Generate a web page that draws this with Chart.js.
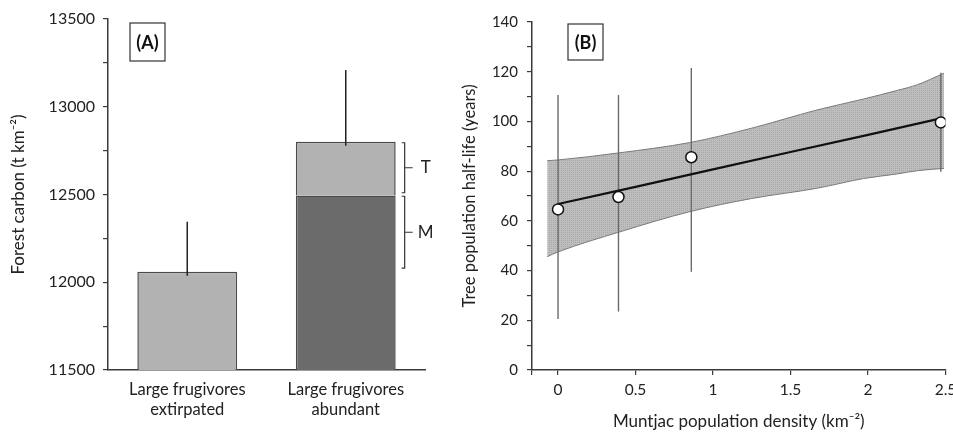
<!DOCTYPE html>
<html>
<head>
<meta charset="utf-8">
<script src="https://cdn.jsdelivr.net/npm/chart.js@4"></script>
<style>
  body { margin: 0; background: #fff; }
  #wrap { position: relative; width: 953px; height: 433px; overflow: hidden; }
  canvas { position: absolute; top: 0; }
  #chartA { left: 0; }
  #chartB { left: 445px; }
</style>
</head>
<body>
<div id="wrap">
  <canvas id="chartA" width="445" height="433"></canvas>
  <canvas id="chartB" width="508" height="433"></canvas>
</div>
<script>
// Panel A - forest carbon
const carbonGroups = [['Large frugivores', 'extirpated'], ['Large frugivores', 'abundant']];
const carbonBase = [12060, 12495];   // whole bar / M part
const carbonTop = [null, 305];       // T part on top of M
const carbonErrHigh = [12345, 13210];
const bracketNames = ['T', 'M'];
const bracketLow = [12510, 12080];
const bracketHigh = [12795, 12490];
const carbonTicks = [11500, 12000, 12500, 13000, 13500];

// Panel B - muntjac vs half-life
const muntjacDensity = [0, 0.39, 0.86, 2.47];
const halfLife = [64.6, 69.6, 85.6, 99.6];
const halfLifeLow = [20.5, 23.5, 39.5, 79.8];
const halfLifeHigh = [110.6, 110.6, 121.5, 119.6];
const fitDensity = [0, 0.5, 1, 1.5, 2, 2.47];
const fitHalfLife = [66.8, 73.7, 80.7, 87.7, 94.6, 101.2];
const bandDensity = [-0.07, 0, 0.4, 0.85, 1.25, 1.67, 1.97, 2.19, 2.32, 2.49];
const bandUpper = [84.2, 84.5, 87.4, 91.5, 97.3, 104.6, 109, 112.5, 114.8, 119.4];
const bandLower = [45.6, 47.5, 55.6, 63.7, 69, 73.1, 77, 78.9, 80.2, 81.1];
const densityMin = -0.168;
const densityTicks = [0, 0.5, 1, 1.5, 2, 2.5];
const halfLifeTicks = [0, 20, 40, 60, 80, 100, 120, 140];

Chart.defaults.font.family = 'Lato, "Open Sans", sans-serif';
Chart.defaults.color = '#222';
const axisColor = '#3a3a3a';

function labelBox(ctx, x, y, w, h, text) {
    ctx.save();
    ctx.fillStyle = '#fff';
    ctx.fillRect(x, y, w, h);
    ctx.strokeStyle = '#333';
    ctx.lineWidth = 1.2;
    ctx.strokeRect(x, y, w, h);
    ctx.fillStyle = '#111';
    ctx.font = 'bold 18px Lato, sans-serif';
    ctx.textAlign = 'center';
    ctx.textBaseline = 'middle';
    ctx.fillText(text, x + w / 2, y + h / 2 + 1);
    ctx.restore();
}

// error bars, brackets and the (A) label
const carbonExtras = {
    id: 'carbonExtras',
    afterDatasetsDraw(chart) {
        const { ctx, scales: { x, y } } = chart;
        ctx.save();
        ctx.strokeStyle = '#222';
        ctx.lineWidth = 1.5;
        carbonErrHigh.forEach((v, i) => {
            const top = (carbonBase[i] || 0) + (carbonTop[i] || 0);
            const xp = x.getPixelForValue(i);
            ctx.beginPath();
            ctx.moveTo(xp, y.getPixelForValue(top) + 4);
            ctx.lineTo(xp, y.getPixelForValue(v));
            ctx.stroke();
        });

        const bar = chart.getDatasetMeta(0).data[1];
        const xr = bar.x + bar.width / 2;
        ctx.strokeStyle = '#333';
        ctx.lineWidth = 1.2;
        ctx.font = '17px Lato, sans-serif';
        ctx.fillStyle = '#222';
        ctx.textAlign = 'center';
        ctx.textBaseline = 'middle';
        bracketNames.forEach((name, i) => {
            const y1 = y.getPixelForValue(bracketHigh[i]);
            const y2 = y.getPixelForValue(bracketLow[i]);
            const bx = xr + 9;
            ctx.beginPath();
            ctx.moveTo(bx - 3, y1);
            ctx.lineTo(bx, y1);
            ctx.lineTo(bx, y2);
            ctx.lineTo(bx - 3, y2);
            ctx.moveTo(bx, (y1 + y2) / 2);
            ctx.lineTo(bx + 8, (y1 + y2) / 2);
            ctx.stroke();
            ctx.fillText(name, bx + 21, (y1 + y2) / 2);
        });
        ctx.restore();
    },
    afterDraw(chart) {
        const a = chart.chartArea;
        labelBox(chart.ctx, a.left + 22, a.top + 4, 35, 38, '(A)');
    }
};

new Chart(document.getElementById('chartA'), {
    type: 'bar',
    data: {
        labels: carbonGroups,
        datasets: [
            {
                label: 'M',
                data: carbonBase,
                backgroundColor: ['#b2b2b2', '#6b6b6b'],
                borderColor: '#4a4a4a',
                borderWidth: 1.5,
                borderSkipped: false,
                barPercentage: 0.63,
                categoryPercentage: 1
            },
            {
                label: 'T',
                data: carbonTop,
                backgroundColor: '#b2b2b2',
                borderColor: '#4a4a4a',
                borderWidth: 1.5,
                borderSkipped: 'bottom',
                barPercentage: 0.63,
                categoryPercentage: 1
            }
        ]
    },
    options: {
        responsive: false,
        animation: false,
        layout: { padding: { top: 19, right: 20, left: 0, bottom: 0 } },
        plugins: { legend: { display: false }, tooltip: { enabled: false } },
        scales: {
            x: {
                stacked: true,
                grid: { display: false, drawTicks: false },
                border: { color: axisColor, width: 1.5 },
                ticks: { font: { size: 16.5 }, padding: 10, color: '#222' },
                afterFit: s => { s.height = 63; }
            },
            y: {
                stacked: true,
                min: 11500,
                max: 13500,
                grid: { drawOnChartArea: false, tickLength: 5, color: axisColor, lineWidth: 1.2 },
                border: { color: axisColor, width: 1.5 },
                ticks: {
                    stepSize: 250,
                    font: { size: 16 },
                    padding: 8,
                    color: '#222',
                    callback: v => carbonTicks.includes(v) ? String(v) : ''
                },
                title: {
                    display: true,
                    text: 'Forest carbon (t km⁻²)',
                    font: { size: 17 },
                    padding: { top: 8 },
                    color: '#222'
                },
                afterFit: s => { s.width = 108; s.paddingTop = 0; s.paddingBottom = 0; }
            }
        }
    },
    plugins: [carbonExtras]
});

// stipple fill for the confidence band
function stipple() {
    const c = document.createElement('canvas');
    c.width = 2; c.height = 2;
    const g = c.getContext('2d');
    g.fillStyle = '#bebebe';
    g.fillRect(0, 0, 2, 2);
    g.fillStyle = '#a8a8a8';
    g.fillRect(0, 0, 1, 1);
    return g.createPattern(c, 'repeat');
}

const near = (v, list) => list.some(t => Math.abs(t - v) < 1e-6);

const halfLifeExtras = {
    id: 'halfLifeExtras',
    afterDatasetDraw(chart, args) {
        if (args.index !== 3) return; // after the band is done
        const { ctx, scales: { x, y } } = chart;
        ctx.save();
        ctx.strokeStyle = '#6a6a6a';
        ctx.lineWidth = 1.4;
        muntjacDensity.forEach((d, i) => {
            const xp = x.getPixelForValue(d);
            ctx.beginPath();
            ctx.moveTo(xp, y.getPixelForValue(halfLifeLow[i]));
            ctx.lineTo(xp, y.getPixelForValue(halfLifeHigh[i]));
            ctx.stroke();
        });
        ctx.restore();
    },
    afterDraw(chart) {
        const a = chart.chartArea;
        labelBox(chart.ctx, a.left + 36, a.top + 2, 35, 36, '(B)');
    }
};

new Chart(document.getElementById('chartB'), {
    type: 'scatter',
    data: {
        datasets: [
            {
                label: 'Observed',
                data: muntjacDensity.map((d, i) => ({ x: d, y: halfLife[i] })),
                pointRadius: 5.5,
                pointBackgroundColor: '#fff',
                pointBorderColor: '#111',
                pointBorderWidth: 1.5,
                order: 0
            },
            {
                type: 'line',
                label: 'Fit',
                data: fitDensity.map((d, i) => ({ x: d, y: fitHalfLife[i] })),
                borderColor: '#111',
                borderWidth: 2.2,
                pointRadius: 0,
                fill: false,
                order: 1
            },
            {
                type: 'line',
                label: 'Upper',
                data: bandDensity.map((d, i) => ({ x: d, y: bandUpper[i] })),
                borderColor: '#7a7a7a',
                borderWidth: 1,
                pointRadius: 0,
                cubicInterpolationMode: 'monotone',
                fill: '+1',
                backgroundColor: stipple(),
                order: 3
            },
            {
                type: 'line',
                label: 'Lower',
                data: bandDensity.map((d, i) => ({ x: d, y: bandLower[i] })),
                borderColor: '#7a7a7a',
                borderWidth: 1,
                pointRadius: 0,
                cubicInterpolationMode: 'monotone',
                fill: false,
                order: 2
            }
        ]
    },
    options: {
        responsive: false,
        animation: false,
        layout: { padding: { top: 22, right: 7.5, left: 0, bottom: 0 } },
        plugins: { legend: { display: false }, tooltip: { enabled: false } },
        scales: {
            x: {
                type: 'linear',
                min: densityMin,
                max: 2.5,
                grid: { drawOnChartArea: false, tickLength: 5, color: axisColor, lineWidth: 1.2 },
                border: { color: axisColor, width: 1.5 },
                ticks: {
                    autoSkip: false,
                    font: { size: 15.5 },
                    padding: 6,
                    color: '#222',
                    maxRotation: 0,
                    callback: v => near(v, densityTicks) ? String(v) : ''
                },
                afterBuildTicks: s => {
                    s.ticks = [densityMin, ...densityTicks].map(v => ({ value: v }));
                },
                title: {
                    display: true,
                    text: 'Muntjac population density (km⁻²)',
                    font: { size: 17 },
                    padding: { bottom: 1 },
                    color: '#222'
                },
                afterFit: s => { s.height = 63; s.paddingLeft = 0; s.paddingRight = 0; }
            },
            y: {
                min: 0,
                max: 140,
                grid: { drawOnChartArea: false, tickLength: 5, color: axisColor, lineWidth: 1.2 },
                border: { color: axisColor, width: 1.5 },
                ticks: {
                    stepSize: 10,
                    font: { size: 15 },
                    padding: 9,
                    color: '#222',
                    callback: v => near(v, halfLifeTicks) ? String(v) : ''
                },
                title: {
                    display: true,
                    text: 'Tree population half-life (years)',
                    font: { size: 16.5 },
                    padding: { top: 15 },
                    color: '#222'
                },
                afterFit: s => { s.width = 87; s.paddingTop = 0; s.paddingBottom = 0; }
            }
        }
    },
    plugins: [halfLifeExtras]
});
</script>
</body>
</html>
